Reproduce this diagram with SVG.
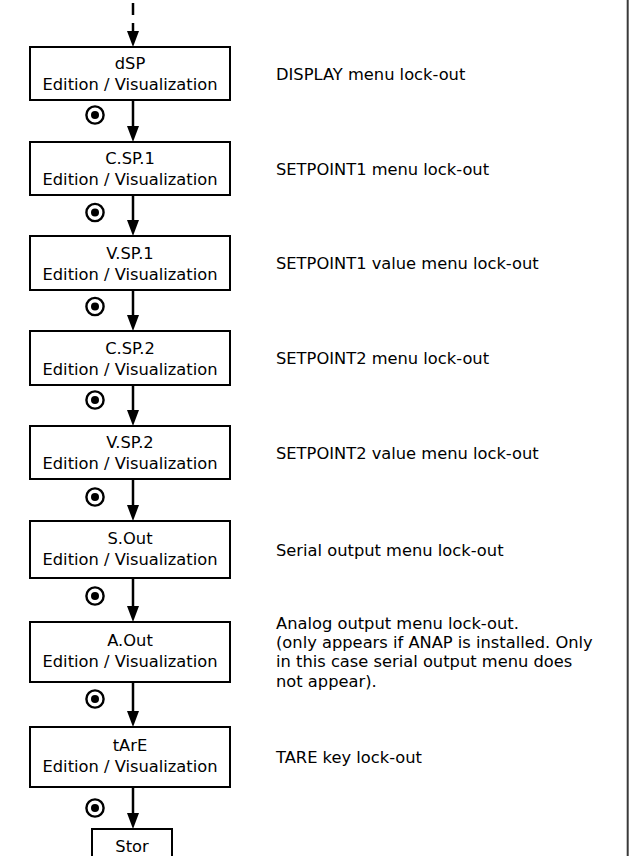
<svg xmlns="http://www.w3.org/2000/svg" width="635" height="856" viewBox="0 0 635 856">
<style>
.box{fill:#fff;stroke:#000;stroke-width:2}
.t{font-family:"DejaVu Sans","Verdana",sans-serif;font-size:16.3px;fill:#000}
.c{text-anchor:middle}
.ln{stroke:#000;stroke-width:2.5;fill:none}
.ring{fill:#fff;stroke:#000;stroke-width:2.4}
</style>
<defs>
<g id="sym"><circle r="8.6" class="ring"/><circle r="4" fill="#000"/></g>
</defs>
<rect x="0" y="0" width="635" height="856" fill="#fff"/>
<line x1="627.7" y1="0" x2="627.7" y2="856" stroke="#3a3a3a" stroke-width="2"/>

<g id="connectors">
<line class="ln" x1="133" y1="3" x2="133" y2="15"/>
<path d="M133,23 L133,34" class="ln"/>
<path d="M127,31 L139,31 L133,47 Z" fill="#000"/>
<path d="M133,100 L133,128" class="ln"/><path d="M127,126 L139,126 L133,142 Z"/>
<path d="M133,195 L133,222" class="ln"/><path d="M127,220 L139,220 L133,236 Z"/>
<path d="M133,290 L133,317" class="ln"/><path d="M127,315 L139,315 L133,331 Z"/>
<path d="M133,385 L133,412" class="ln"/><path d="M127,410 L139,410 L133,426 Z"/>
<path d="M133,479 L133,507" class="ln"/><path d="M127,505 L139,505 L133,521 Z"/>
<path d="M133,578 L133,608" class="ln"/><path d="M127,606 L139,606 L133,622 Z"/>
<path d="M133,682 L133,713" class="ln"/><path d="M127,711 L139,711 L133,727 Z"/>
<path d="M133,787 L133,815" class="ln"/><path d="M127,813 L139,813 L133,829 Z"/>
<use href="#sym" x="95" y="115"/>
<use href="#sym" x="95" y="212.5"/>
<use href="#sym" x="95" y="306.5"/>
<use href="#sym" x="95" y="400"/>
<use href="#sym" x="95" y="497"/>
<use href="#sym" x="95" y="596"/>
<use href="#sym" x="95" y="699"/>
<use href="#sym" x="95" y="808"/>
</g>

<g id="n-dsp">
<rect class="box" x="30" y="47" width="200" height="53"/>
<text class="t c" x="130" y="69">dSP</text>
<text class="t c" x="130" y="90">Edition / Visualization</text>
<text class="t" x="276" y="79.5">DISPLAY menu lock-out</text>
</g>
<g id="n-csp1">
<rect class="box" x="30" y="142" width="200" height="53"/>
<text class="t c" x="130" y="164">C.SP.1</text>
<text class="t c" x="130" y="185">Edition / Visualization</text>
<text class="t" x="276" y="174.5">SETPOINT1 menu lock-out</text>
</g>
<g id="n-vsp1">
<rect class="box" x="30" y="236" width="200" height="54"/>
<text class="t c" x="130" y="258.5">V.SP.1</text>
<text class="t c" x="130" y="279.5">Edition / Visualization</text>
<text class="t" x="276" y="269">SETPOINT1 value menu lock-out</text>
</g>
<g id="n-csp2">
<rect class="box" x="30" y="331" width="200" height="54"/>
<text class="t c" x="130" y="353.5">C.SP.2</text>
<text class="t c" x="130" y="374.5">Edition / Visualization</text>
<text class="t" x="276" y="364">SETPOINT2 menu lock-out</text>
</g>
<g id="n-vsp2">
<rect class="box" x="30" y="426" width="200" height="53"/>
<text class="t c" x="130" y="448">V.SP.2</text>
<text class="t c" x="130" y="469">Edition / Visualization</text>
<text class="t" x="276" y="458.5">SETPOINT2 value menu lock-out</text>
</g>
<g id="n-sout">
<rect class="box" x="30" y="521" width="200" height="57"/>
<text class="t c" x="130" y="544">S.Out</text>
<text class="t c" x="130" y="565">Edition / Visualization</text>
<text class="t" x="276" y="555.5">Serial output menu lock-out</text>
</g>
<g id="n-aout">
<rect class="box" x="30" y="622" width="200" height="60"/>
<text class="t c" x="130" y="645.5">A.Out</text>
<text class="t c" x="130" y="667">Edition / Visualization</text>
<text class="t" x="276" y="628.5">Analog output menu lock-out.</text>
<text class="t" x="276" y="648">(only appears if ANAP is installed. Only</text>
<text class="t" x="276" y="667">in this case serial output menu does</text>
<text class="t" x="276" y="686.5">not appear).</text>
</g>
<g id="n-tare">
<rect class="box" x="30" y="727" width="200" height="60"/>
<text class="t c" x="130" y="750.5">tArE</text>
<text class="t c" x="130" y="772">Edition / Visualization</text>
<text class="t" x="276" y="763">TARE key lock-out</text>
</g>
<g id="n-stor">
<rect class="box" x="92" y="829" width="80" height="40"/>
<text class="t c" x="132" y="852">Stor</text>
</g>
</svg>
